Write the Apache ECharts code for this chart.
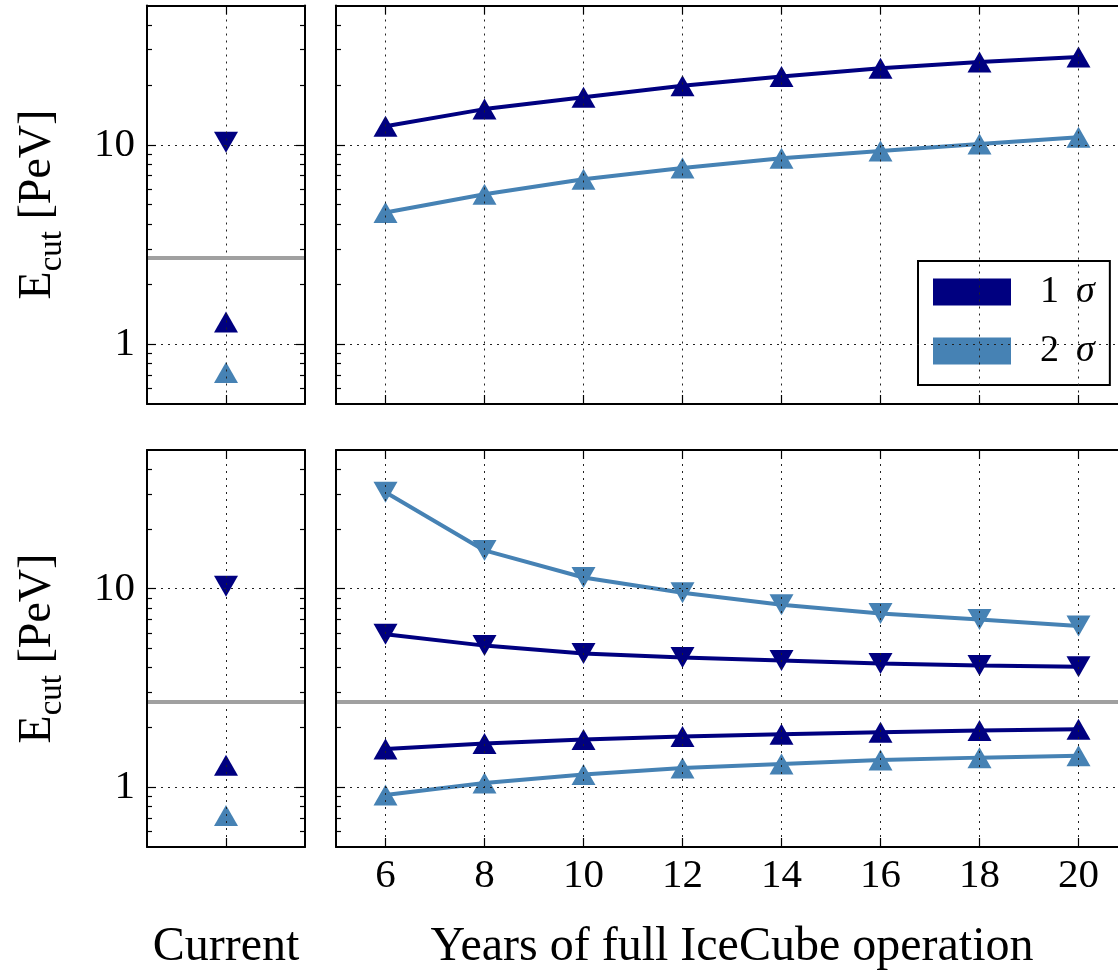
<!DOCTYPE html>
<html>
<head>
<meta charset="utf-8">
<script src="https://cdn.jsdelivr.net/npm/echarts@6/dist/echarts.min.js"></script>
<style>
  html, body { margin: 0; padding: 0; background: #fff; }
  #chart { width: 1118px; height: 971px; }
</style>
</head>
<body>
<div id="chart"></div>
<script>
// ---- data ----
const years = [6, 8, 10, 12, 14, 16, 18, 20];

// upper panel: lower bounds on E_cut (up triangles)
const topSigma1 = [12.4, 15.1, 17.3, 19.8, 22.0, 24.2, 26.0, 27.6];
const topSigma2 = [4.57, 5.65, 6.72, 7.65, 8.55, 9.3, 10.1, 10.9];

// lower panel: upper bounds (down triangles) and lower bounds (up triangles)
const botSigma2Upper = [30.6, 15.6, 11.4, 9.55, 8.3, 7.5, 7.0, 6.5];
const botSigma1Upper = [5.9, 5.17, 4.72, 4.5, 4.35, 4.2, 4.1, 4.05];
const botSigma1Lower = [1.56, 1.66, 1.74, 1.80, 1.85, 1.89, 1.93, 1.96];
const botSigma2Lower = [0.915, 1.05, 1.16, 1.25, 1.31, 1.37, 1.41, 1.44];

// current constraints
const currentSigma1Upper = 10.3;
const currentSigma1Lower = 1.29;
const currentSigma2Lower = 0.72;

// reference energy level (grey line)
const referenceLevel = 2.7;

// ticks
const yearTicks = [6, 8, 10, 12, 14, 16, 18, 20];
const currentTicks = [0];
const yMajorTicks = [1, 10];
const yMinorTicks = [0.6, 0.7, 0.8, 0.9, 2, 3, 4, 5, 6, 7, 8, 9, 20, 30, 40];

// ---- styling ----
const FONT = "'Liberation Serif', 'Times New Roman', serif";
const NAVY = '#000080';
const STEEL = '#4682b4';
const GREY = '#a0a0a0';
const frameLine = { color: '#000', width: 2 };
const tickLine = { color: '#000', width: 1.2 };
const gridDots = { type: [2, 5], color: '#222', width: 1 };

const grids = [
  { left: 147, top: 5.5, width: 158, height: 398.5 },   // current, upper
  { left: 336, top: 5.5, width: 792, height: 398.5 },   // years, upper
  { left: 147, top: 450, width: 158, height: 397 },     // current, lower
  { left: 336, top: 450, width: 792, height: 397 }      // years, lower
].map(g => Object.assign({ outerBoundsMode: 'none', containLabel: false }, g));

function xAxesFor(gi, isCurrent, showLabels, name) {
  const ticks = isCurrent ? currentTicks : yearTicks;
  const base = {
    gridIndex: gi, type: 'value',
    min: isCurrent ? -1 : 5, max: isCurrent ? 1 : 21,
    axisLine: { show: true, onZero: false, lineStyle: frameLine },
    axisTick: { show: true, inside: true, length: 9, customValues: ticks, lineStyle: tickLine },
    axisLabel: { show: false },
    splitLine: { show: false }
  };
  const bottom = Object.assign({}, base, {
    position: 'bottom', z: 5,
    axisLabel: {
      show: showLabels, customValues: ticks, margin: 9,
      fontFamily: FONT, fontSize: 41, color: '#000',
      formatter: v => String(Math.round(v))
    },
    splitLine: { show: true, lineStyle: gridDots }
  });
  if (name) {
    Object.assign(bottom, {
      name: name, nameLocation: 'middle', nameGap: 76,
      nameTextStyle: { fontFamily: FONT, fontSize: 48, color: '#000' }
    });
  }
  const top = Object.assign({}, base, { position: 'top', z: 5 });
  return [bottom, top];
}

function yAxesFor(gi, showLabels) {
  const base = {
    gridIndex: gi, type: 'log', logBase: 10, min: 0.5, max: 50, z: 5,
    axisLine: { show: false, onZero: false },
    axisLabel: { show: false },
    splitLine: { show: false }
  };
  return [
    Object.assign({}, base, {
      position: 'left',
      axisLine: { show: true, onZero: false, lineStyle: frameLine },
      axisTick: { show: true, inside: true, length: 9, customValues: yMajorTicks, lineStyle: tickLine },
      axisLabel: {
        show: showLabels, customValues: yMajorTicks, margin: 12,
        fontFamily: FONT, fontSize: 41, color: '#000',
        formatter: v => String(Math.round(v))
      },
      splitLine: { show: true, lineStyle: gridDots }
    }),
    Object.assign({}, base, {
      position: 'left',
      axisTick: { show: true, inside: true, length: 5, customValues: yMinorTicks, lineStyle: tickLine }
    }),
    Object.assign({}, base, {
      position: 'right',
      axisLine: { show: true, onZero: false, lineStyle: frameLine },
      axisTick: { show: true, inside: true, length: 9, customValues: yMajorTicks, lineStyle: tickLine }
    }),
    Object.assign({}, base, {
      position: 'right',
      axisTick: { show: true, inside: true, length: 5, customValues: yMinorTicks, lineStyle: tickLine }
    })
  ];
}

const xAxes = [].concat(
  xAxesFor(0, true, false, null),
  xAxesFor(1, false, false, null),
  xAxesFor(2, true, false, 'Current'),
  xAxesFor(3, false, true, 'Years of full IceCube operation')
);
const yAxes = [].concat(
  yAxesFor(0, true), yAxesFor(1, false), yAxesFor(2, true), yAxesFor(3, false)
);

const pairs = vals => years.map((y, i) => [y, vals[i]]);

const refLine = {
  silent: true, symbol: 'none', label: { show: false }, animation: false,
  lineStyle: { color: GREY, width: 4, type: 'solid' },
  emphasis: { disabled: true },
  data: [{ yAxis: referenceLevel }]
};

function curve(name, grid, vals, color, down, withRef) {
  const s = {
    name: name, type: 'line', xAxisIndex: grid * 2, yAxisIndex: grid * 4,
    data: pairs(vals), color: color,
    lineStyle: { color: color, width: 4 },
    itemStyle: { color: color, opacity: 1 },
    symbol: 'triangle', symbolSize: [24, 21], symbolRotate: down ? 180 : 0,
    showAllSymbol: true, z: 3,
    emphasis: { disabled: true }
  };
  if (withRef) s.markLine = refLine;
  return s;
}

function current(name, grid, val, color, down, withRef) {
  const s = {
    name: name, type: 'scatter', xAxisIndex: grid * 2, yAxisIndex: grid * 4,
    data: [[0, val]], color: color,
    itemStyle: { color: color, opacity: 1 },
    symbol: 'triangle', symbolSize: [24, 21], symbolRotate: down ? 180 : 0,
    z: 3, emphasis: { disabled: true }
  };
  if (withRef) s.markLine = refLine;
  return s;
}

const S1 = '1 σ', S2 = '2 σ';
const series = [
  // upper row
  curve(S1, 1, topSigma1, NAVY, false, false),
  curve(S2, 1, topSigma2, STEEL, false, false),
  current(S1, 0, currentSigma1Upper, NAVY, true, true),
  current(S1, 0, currentSigma1Lower, NAVY, false, false),
  current(S2, 0, currentSigma2Lower, STEEL, false, false),
  // lower row
  curve(S2, 3, botSigma2Upper, STEEL, true, false),
  curve(S1, 3, botSigma1Upper, NAVY, true, true),
  curve(S1, 3, botSigma1Lower, NAVY, false, false),
  curve(S2, 3, botSigma2Lower, STEEL, false, false),
  current(S1, 2, currentSigma1Upper, NAVY, true, true),
  current(S1, 2, currentSigma1Lower, NAVY, false, false),
  current(S2, 2, currentSigma2Lower, STEEL, false, false)
];

const yTitle = (cy) => ({
  type: 'text', x: 38, y: cy, rotation: Math.PI / 2, z: 10,
  style: {
    text: '{e|E}{s|cut}{e| [PeV]}',
    align: 'center', verticalAlign: 'middle',
    fill: '#000',
    rich: {
      e: { fontFamily: FONT, fontSize: 46, lineHeight: 46, fill: '#000' },
      s: { fontFamily: FONT, fontSize: 33, lineHeight: 33, padding: [28, 0, 0, 0], fill: '#000' }
    }
  }
});

const option = {
  animation: false,
  backgroundColor: '#fff',
  grid: grids,
  xAxis: xAxes,
  yAxis: yAxes,
  legend: {
    data: [S1, S2],
    orient: 'vertical',
    left: 918, top: 261,
    icon: 'rect',
    itemWidth: 78, itemHeight: 27, itemGap: 21,
    padding: [12, 15, 15, 15],
    backgroundColor: '#fff',
    borderColor: '#000', borderWidth: 2,
    selectedMode: false,
    formatter: name => name.replace(' σ', '\u2009 {i|σ}'),
    textStyle: {
      fontFamily: FONT, fontSize: 38, color: '#000',
      padding: [0, 0, 0, 24],
      rich: {
        i: { fontFamily: FONT, fontSize: 38, fontStyle: 'italic', color: '#000' }
      }
    }
  },
  graphic: [yTitle(204.5), yTitle(648.5)],
  series: series
};

const chart = echarts.init(document.getElementById('chart'), null, { renderer: 'canvas' });
chart.setOption(option);
</script>
</body>
</html>
